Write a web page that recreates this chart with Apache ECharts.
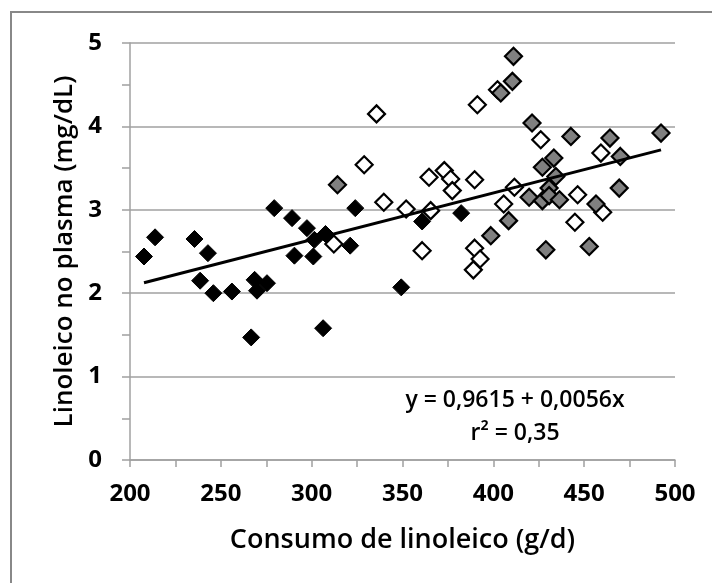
<!DOCTYPE html>
<html>
<head>
<meta charset="utf-8">
<script src="https://cdn.jsdelivr.net/npm/echarts@6/dist/echarts.min.js"></script>
<style>
html,body{margin:0;padding:0;background:#fff;}
#chart{width:712px;height:583px;}
</style>
</head>
<body>
<div id="chart"></div>
<script>
// Black filled diamonds
const blackPoints = [
  [207.7,2.44],[213.8,2.67],[235.5,2.65],[238.6,2.15],[242.9,2.48],[245.9,2.00],
  [256.1,2.02],[266.7,1.47],[268.6,2.16],[269.9,2.03],[275.4,2.12],[279.4,3.02],
  [289.2,2.90],[290.5,2.45],[297.4,2.78],[300.9,2.44],[301.5,2.64],[306.3,1.58],
  [307.6,2.71],[321.2,2.57],[324.0,3.02],[349.3,2.07],[360.8,2.86],[382.3,2.96]
];
// Open (white) diamonds
const openPoints = [
  [312.2,2.59],[328.9,3.54],[335.7,4.15],[339.7,3.09],[352.0,3.01],[360.8,2.51],
  [364.6,3.39],[365.5,2.99],[373.0,3.47],[376.5,3.37],[377.4,3.23],[389.0,2.28],
  [389.7,2.54],[389.7,3.36],[391.2,4.26],[392.7,2.41],[402.3,4.44],[405.7,3.07],
  [411.6,3.27],[426.1,3.84],[444.9,2.85],[446.4,3.18],[459.2,3.68],[460.2,2.97]
];
// Gray diamonds
const grayPoints = [
  [314.2,3.30],[398.6,2.69],[404.1,4.40],[408.4,2.87],[410.5,4.54],[411.1,4.84],
  [419.7,3.15],[421.3,4.04],[427.0,3.51],[427.0,3.11],[428.9,2.52],[430.7,3.26],
  [430.7,3.17],[433.3,3.62],[434.4,3.40],[436.4,3.12],[442.7,3.88],[452.8,2.56],
  [456.5,3.07],[464.2,3.86],[469.3,3.26],[469.9,3.64],[492.3,3.92]
];
const intercept = 0.9615;
const slope = 0.0056;
const equationText = 'y = 0,9615 + 0,0056x';
const r2Text = 'r² = 0,35';
const xTitle = 'Consumo de linoleico (g/d)';
const yTitle = 'Linoleico no plasma (mg/dL)';

const allX = blackPoints.concat(openPoints, grayPoints).map(p => p[0]);
const xMin = Math.min(...allX), xMax = Math.max(...allX);
const trend = [[xMin, intercept + slope * xMin], [xMax, intercept + slope * xMax]];

const FONT = 'Open Sans';
const chart = echarts.init(document.getElementById('chart'), null, {renderer: 'canvas'});
const sym = {symbol: 'diamond', symbolSize: 17};
chart.setOption({
  backgroundColor: '#fff',
  animation: false,
  grid: {left: 130, right: 37, top: 43, bottom: 123},
  xAxis: {
    type: 'value', min: 200, max: 500, interval: 50,
    name: xTitle, nameLocation: 'middle', nameGap: 67,
    nameTextStyle: {fontFamily: FONT, fontSize: 27, fontWeight: 600, color: '#000'},
    axisLine: {show: true, lineStyle: {color: '#a0a0a0', width: 1.5}},
    axisTick: {show: true, inside: false, length: 7, lineStyle: {color: '#a0a0a0', width: 1.5}},
    minorTick: {show: true, splitNumber: 2, length: 7, lineStyle: {color: '#a0a0a0', width: 1.5}},
    splitLine: {show: false},
    axisLabel: {fontFamily: FONT, fontSize: 24, fontWeight: 'bold', color: '#000', margin: 22}
  },
  yAxis: {
    type: 'value', min: 0, max: 5, interval: 1,
    name: yTitle, nameLocation: 'middle', nameGap: 50,
    nameTextStyle: {fontFamily: FONT, fontSize: 26, fontWeight: 600, color: '#000'},
    axisLine: {show: true, lineStyle: {color: '#a0a0a0', width: 1.5}},
    axisTick: {show: true, inside: false, length: 8, lineStyle: {color: '#a0a0a0', width: 1.5}},
    minorTick: {show: true, splitNumber: 2, length: 8, lineStyle: {color: '#a0a0a0', width: 1.5}},
    splitLine: {show: true, lineStyle: {color: '#a0a0a0', width: 1.5}},
    axisLabel: {fontFamily: FONT, fontSize: 24, fontWeight: 'bold', color: '#000', margin: 28}
  },
  series: [
    Object.assign({type: 'scatter', data: blackPoints, z: 2,
      itemStyle: {color: '#000', borderColor: '#000', borderWidth: 1, opacity: 1}}, sym),
    Object.assign({type: 'scatter', data: openPoints, z: 3,
      itemStyle: {color: '#fff', borderColor: '#000', borderWidth: 2.2, opacity: 1}}, sym),
    Object.assign({type: 'scatter', data: grayPoints, z: 4,
      itemStyle: {color: '#808080', borderColor: '#000', borderWidth: 2.2, opacity: 1}}, sym),
    {type: 'line', data: trend, z: 5, symbol: 'none', silent: true,
      lineStyle: {color: '#000', width: 3}}
  ],
  graphic: [
    {type: 'polyline', shape: {points: [[11, 600], [11, 12], [720, 12]]},
      style: {stroke: '#888', lineWidth: 2, fill: null}},
    {type: 'text', x: 515, y: 400, style: {text: equationText, font: '600 23px "Open Sans"', fill: '#000', textAlign: 'center', textVerticalAlign: 'middle'}},
    {type: 'text', x: 515, y: 433, style: {text: r2Text, font: '600 23px "Open Sans"', fill: '#000', textAlign: 'center', textVerticalAlign: 'middle'}}
  ]
});
</script>
</body>
</html>
